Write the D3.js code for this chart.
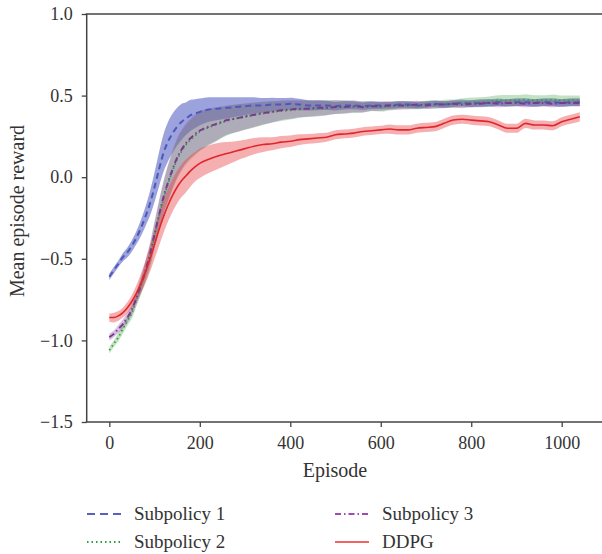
<!DOCTYPE html>
<html>
<head>
<meta charset="utf-8">
<script src="https://cdn.jsdelivr.net/npm/d3@7"></script>
<style>
  html, body { margin: 0; padding: 0; background: #fff; }
  svg { display: block; }
  text { font-family: "Liberation Serif", "DejaVu Serif", serif; fill: #333; }
</style>
</head>
<body>
<svg id="chart" width="602" height="554"></svg>
<script>
// ---------- data ----------
const episodes = [0,10,20,30,40,50,60,70,80,90,100,110,120,130,140,150,160,170,180,190,200,
  220,240,260,280,300,320,340,360,380,400,420,440,460,480,500,520,540,560,580,600,
  620,640,660,680,700,720,740,760,780,800,820,840,860,880,900,920,940,960,980,1000,1020,1040];

const sub1Mean = [-0.61,-0.57,-0.53,-0.49,-0.46,-0.42,-0.37,-0.31,-0.24,-0.16,-0.06,0.05,0.15,0.22,0.27,0.31,0.34,0.36,0.38,0.39,0.40,
  0.415,0.42,0.425,0.43,0.435,0.44,0.44,0.445,0.445,0.45,
  0.445,0.44,0.44,0.44,0.435,0.44,0.44,0.435,0.44,0.44,
  0.44,0.445,0.445,0.44,0.445,0.45,0.445,0.45,0.455,0.45,
  0.455,0.455,0.46,0.455,0.46,0.46,0.455,0.46,0.46,0.455,
  0.46,0.46];
const sub1Std = [0.02,0.02,0.02,0.025,0.03,0.035,0.04,0.05,0.06,0.075,0.09,0.105,0.115,0.12,0.12,0.115,0.11,0.10,0.095,0.088,0.082,
  0.075,0.07,0.065,0.06,0.055,0.05,0.045,0.042,0.04,0.037,
  0.035,0.032,0.03,0.028,0.026,0.025,0.024,0.023,0.022,0.022,
  0.021,0.021,0.02,0.02,0.02,0.02,0.02,0.02,0.021,0.021,
  0.022,0.022,0.022,0.022,0.023,0.023,0.023,0.023,0.023,0.023,
  0.023,0.023];

const sub2Mean = [-1.06,-1.02,-0.98,-0.93,-0.88,-0.83,-0.75,-0.67,-0.58,-0.49,-0.36,-0.24,-0.13,-0.04,0.04,0.11,0.16,0.20,0.23,0.255,0.28,
  0.305,0.325,0.345,0.36,0.37,0.38,0.39,0.40,0.405,0.41,
  0.415,0.42,0.42,0.425,0.43,0.43,0.43,0.43,0.435,0.43,
  0.435,0.44,0.44,0.44,0.445,0.445,0.45,0.45,0.455,0.46,
  0.46,0.465,0.47,0.47,0.47,0.475,0.47,0.47,0.475,0.47,
  0.47,0.47];
const sub2Std = [0.02,0.02,0.025,0.03,0.03,0.035,0.04,0.05,0.06,0.07,0.08,0.09,0.10,0.11,0.115,0.12,0.12,0.12,0.12,0.12,0.12,
  0.11,0.10,0.09,0.085,0.08,0.075,0.07,0.065,0.06,0.057,
  0.052,0.05,0.048,0.045,0.042,0.04,0.037,0.034,0.03,0.028,
  0.026,0.025,0.024,0.024,0.024,0.025,0.025,0.026,0.027,0.028,
  0.03,0.03,0.032,0.033,0.033,0.033,0.032,0.032,0.032,0.03,
  0.03,0.03];

const sub3Mean = [-0.98,-0.96,-0.93,-0.90,-0.86,-0.81,-0.74,-0.66,-0.57,-0.47,-0.35,-0.23,-0.12,-0.03,0.05,0.12,0.17,0.21,0.24,0.265,0.285,
  0.31,0.33,0.35,0.36,0.372,0.383,0.393,0.40,0.41,0.415,
  0.42,0.42,0.425,0.425,0.43,0.43,0.435,0.43,0.435,0.435,
  0.44,0.44,0.44,0.445,0.44,0.445,0.445,0.45,0.445,0.45,
  0.45,0.455,0.45,0.455,0.455,0.45,0.455,0.455,0.45,0.455,
  0.455,0.455];
const sub3Std = [0.02,0.02,0.025,0.03,0.03,0.035,0.04,0.05,0.06,0.07,0.08,0.09,0.10,0.11,0.115,0.12,0.12,0.12,0.12,0.12,0.12,
  0.11,0.10,0.09,0.085,0.08,0.075,0.07,0.065,0.06,0.057,
  0.052,0.05,0.048,0.045,0.042,0.04,0.037,0.034,0.03,0.028,
  0.026,0.025,0.024,0.023,0.022,0.022,0.022,0.022,0.022,0.022,
  0.022,0.022,0.022,0.022,0.022,0.022,0.022,0.022,0.022,0.022,
  0.022,0.022];

const ddpgMean = [-0.86,-0.86,-0.85,-0.83,-0.80,-0.76,-0.71,-0.65,-0.58,-0.50,-0.41,-0.32,-0.24,-0.17,-0.11,-0.06,-0.02,0.01,0.04,0.065,0.085,
  0.11,0.13,0.145,0.16,0.175,0.19,0.20,0.205,0.215,0.22,
  0.23,0.235,0.24,0.245,0.26,0.265,0.27,0.28,0.285,0.29,
  0.295,0.29,0.29,0.30,0.305,0.31,0.33,0.35,0.355,0.35,
  0.345,0.34,0.32,0.30,0.30,0.33,0.32,0.32,0.315,0.34,
  0.355,0.37];
const ddpgStd = [0.025,0.03,0.03,0.03,0.035,0.04,0.05,0.06,0.07,0.08,0.09,0.10,0.10,0.10,0.10,0.10,0.10,0.10,0.095,0.09,0.09,
  0.085,0.08,0.07,0.06,0.055,0.05,0.045,0.04,0.037,0.035,
  0.033,0.03,0.03,0.028,0.028,0.027,0.027,0.026,0.026,0.025,
  0.028,0.028,0.028,0.028,0.028,0.028,0.028,0.028,0.028,0.028,
  0.028,0.028,0.028,0.028,0.028,0.028,0.028,0.028,0.028,0.028,
  0.028,0.028];

const xTicks = [0, 200, 400, 600, 800, 1000];
const yTicks = [-1.5, -1.0, -0.5, 0.0, 0.5, 1.0];

const seriesNames = ["Subpolicy 1", "Subpolicy 2", "Subpolicy 3", "DDPG"];

// ---------- styles ----------
const styles = {
  "Subpolicy 1": { line: "#4d58bd", band: "#4a55c0", bandOpacity: 0.55, dash: "6,4", width: 2 },
  "Subpolicy 2": { line: "#3a9a48", band: "#4caf50", bandOpacity: 0.35, dash: "1.5,3", width: 1.8 },
  "Subpolicy 3": { line: "#7a3a8a", band: "#8e44ad", bandOpacity: 0.35, dash: "6,3,1.5,3", width: 2 },
  "DDPG":        { line: "#e0262b", band: "#e8383d", bandOpacity: 0.4, dash: null, width: 1.6 }
};
const legendColors = {
  "Subpolicy 1": "#5a5fc4", "Subpolicy 2": "#2f9e40", "Subpolicy 3": "#a04bb4", "DDPG": "#ea3030"
};

const seriesData = {
  "Subpolicy 1": { mean: sub1Mean, std: sub1Std },
  "Subpolicy 2": { mean: sub2Mean, std: sub2Std },
  "Subpolicy 3": { mean: sub3Mean, std: sub3Std },
  "DDPG": { mean: ddpgMean, std: ddpgStd }
};

// ---------- scales ----------
const svg = d3.select("#chart");
const plotLeft = 86.7, plotTop = 14, plotBottom = 422;
const pxPerEp = (561.7 - 109.3) / 1000;
const xMin = -50, xMax = 1110;
const x = d3.scaleLinear().domain([xMin, xMax]).range([plotLeft, plotLeft + (xMax - xMin) * pxPerEp]);
const y = d3.scaleLinear().domain([-1.5, 1.0]).range([plotBottom, plotTop]);

// ---------- bands and lines ----------
const plot = svg.append("g");
seriesNames.forEach(name => {
  const s = seriesData[name], st = styles[name];
  const pts = episodes.map((e, i) => ({ e, m: s.mean[i], sd: s.std[i] }));
  const area = d3.area().x(d => x(d.e)).y0(d => y(d.m - d.sd)).y1(d => y(d.m + d.sd)).curve(d3.curveMonotoneX);
  plot.append("path").datum(pts).attr("d", area)
    .attr("fill", st.band).attr("fill-opacity", st.bandOpacity).attr("stroke", "none");
});
seriesNames.forEach(name => {
  const s = seriesData[name], st = styles[name];
  const pts = episodes.map((e, i) => ({ e, m: s.mean[i] }));
  const line = d3.line().x(d => x(d.e)).y(d => y(d.m)).curve(d3.curveMonotoneX);
  const p = plot.append("path").datum(pts).attr("d", line)
    .attr("fill", "none").attr("stroke", st.line).attr("stroke-width", st.width);
  if (st.dash) p.attr("stroke-dasharray", st.dash);
});

// ---------- axes ----------
const axisColor = "#444";
const xAxis = svg.append("g").attr("transform", `translate(0,${plotBottom})`)
  .call(d3.axisBottom(x).tickValues(xTicks).tickSize(5).tickPadding(9).tickFormat(d3.format("d")));
const yAxis = svg.append("g").attr("transform", `translate(${plotLeft},0)`)
  .call(d3.axisLeft(y).tickValues(yTicks).tickSize(5).tickPadding(9).tickFormat(d3.format(".1f")));
[xAxis, yAxis].forEach(g => {
  g.select(".domain").remove();
  g.selectAll(".tick line").attr("stroke", axisColor).attr("stroke-width", 1.3);
  g.selectAll(".tick text").attr("font-size", 18).attr("fill", "#333")
    .style("font-family", '"Liberation Serif", serif');
});
const rightEdge = 610;
svg.append("line").attr("x1", plotLeft).attr("x2", plotLeft).attr("y1", plotTop).attr("y2", plotBottom)
  .attr("stroke", axisColor).attr("stroke-width", 1.5);
svg.append("line").attr("x1", plotLeft - 1).attr("x2", rightEdge).attr("y1", plotBottom).attr("y2", plotBottom)
  .attr("stroke", axisColor).attr("stroke-width", 1.5);
svg.append("line").attr("x1", plotLeft - 1).attr("x2", rightEdge).attr("y1", plotTop).attr("y2", plotTop)
  .attr("stroke", axisColor).attr("stroke-width", 1.5);

// ---------- labels ----------
svg.append("text").attr("x", 335).attr("y", 477).attr("text-anchor", "middle")
  .attr("font-size", 20).text("Episode");
svg.append("text").attr("transform", "translate(24,211) rotate(-90)").attr("text-anchor", "middle")
  .attr("font-size", 20).text("Mean episode reward");

// ---------- legend ----------
const legendPos = {
  "Subpolicy 1": [87, 514], "Subpolicy 2": [87, 542],
  "Subpolicy 3": [335, 514], "DDPG": [335, 542]
};
seriesNames.forEach(name => {
  const [lx, ly] = legendPos[name], st = styles[name];
  const l = svg.append("line").attr("x1", lx).attr("x2", lx + 34).attr("y1", ly).attr("y2", ly)
    .attr("stroke", legendColors[name]).attr("stroke-width", name === "DDPG" ? 1.4 : 1.8);
  if (st.dash) l.attr("stroke-dasharray", name === "Subpolicy 1" ? "8,5" : st.dash);
  svg.append("text").attr("x", lx + 47).attr("y", ly + 6).attr("font-size", 19).text(name);
});
</script>
</body>
</html>
